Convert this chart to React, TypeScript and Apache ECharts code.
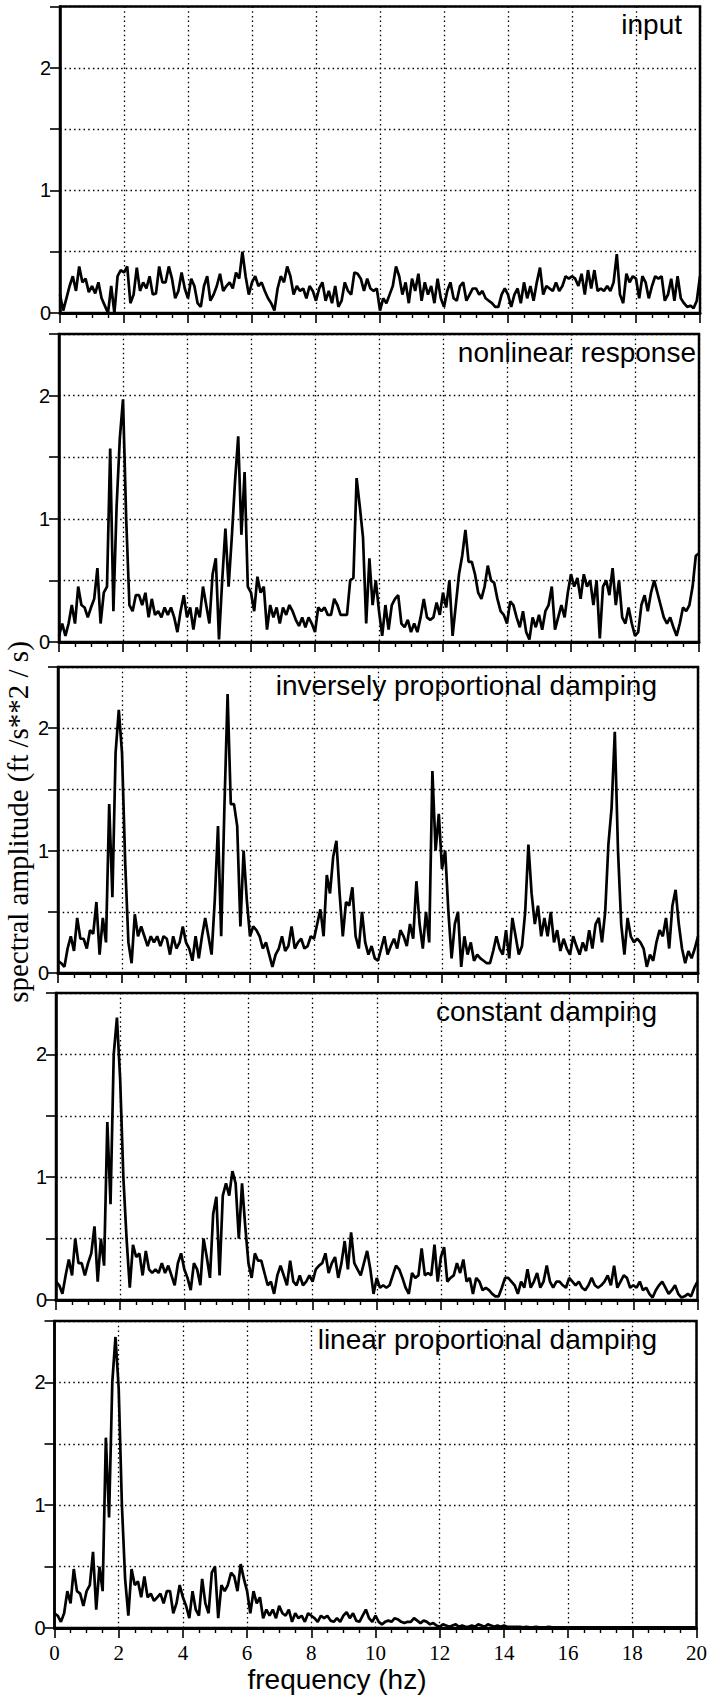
import React, { useEffect, useRef } from "react";
import * as echarts from "echarts";

const FREQ_STEP = 0.1;
const X_TICKS = [0, 2, 4, 6, 8, 10, 12, 14, 16, 18, 20];
const Y_LABELS = [0, 1, 2];
const TITLES = ["input", "nonlinear response", "inversely proportional damping", "constant damping", "linear proportional damping"];

const INPUT = [
  0.15, 0.02, 0.12, 0.22, 0.30, 0.18, 0.38, 0.25, 0.28, 0.17,
  0.22, 0.16, 0.25, 0.12, 0.06, 0.00, 0.22, 0.00, 0.30, 0.35,
  0.33, 0.38, 0.08, 0.15, 0.37, 0.18, 0.25, 0.20, 0.30, 0.15,
  0.16, 0.38, 0.25, 0.25, 0.38, 0.28, 0.12, 0.18, 0.33, 0.20,
  0.12, 0.28, 0.22, 0.08, 0.05, 0.22, 0.30, 0.10, 0.15, 0.22,
  0.32, 0.18, 0.22, 0.25, 0.20, 0.33, 0.28, 0.50, 0.30, 0.15,
  0.25, 0.30, 0.22, 0.25, 0.18, 0.12, 0.08, 0.02, 0.20, 0.30,
  0.25, 0.38, 0.30, 0.15, 0.22, 0.18, 0.20, 0.12, 0.22, 0.18,
  0.10, 0.20, 0.25, 0.10, 0.18, 0.08, 0.22, 0.05, 0.10, 0.25,
  0.18, 0.15, 0.33, 0.32, 0.28, 0.18, 0.28, 0.20, 0.18, 0.20,
  0.02, 0.12, 0.08, 0.15, 0.22, 0.38, 0.30, 0.15, 0.25, 0.08,
  0.28, 0.18, 0.32, 0.10, 0.25, 0.15, 0.22, 0.08, 0.28, 0.12,
  0.05, 0.18, 0.25, 0.12, 0.10, 0.22, 0.25, 0.10, 0.15, 0.20,
  0.20, 0.15, 0.18, 0.12, 0.10, 0.08, 0.05, 0.05, 0.15, 0.20,
  0.15, 0.05, 0.15, 0.20, 0.08, 0.25, 0.12, 0.22, 0.10, 0.25,
  0.37, 0.15, 0.22, 0.20, 0.18, 0.25, 0.18, 0.22, 0.30, 0.28,
  0.30, 0.28, 0.22, 0.32, 0.15, 0.35, 0.20, 0.35, 0.18, 0.20,
  0.18, 0.22, 0.18, 0.25, 0.48, 0.15, 0.08, 0.32, 0.25, 0.30,
  0.28, 0.12, 0.30, 0.25, 0.12, 0.22, 0.30, 0.28, 0.30, 0.10,
  0.15, 0.28, 0.10, 0.30, 0.12, 0.08, 0.05, 0.06, 0.04, 0.10,
  0.30,
];

const NONLINEAR = [
  0.05, 0.15, 0.05, 0.15, 0.30, 0.15, 0.45, 0.30, 0.28, 0.20,
  0.28, 0.35, 0.60, 0.15, 0.40, 0.45, 1.57, 0.25, 1.10, 1.65,
  1.97, 1.00, 0.30, 0.25, 0.38, 0.38, 0.30, 0.40, 0.20, 0.35,
  0.22, 0.25, 0.20, 0.28, 0.22, 0.28, 0.20, 0.08, 0.25, 0.38,
  0.20, 0.28, 0.10, 0.28, 0.20, 0.45, 0.30, 0.15, 0.55, 0.68,
  0.02, 0.50, 0.92, 0.45, 0.85, 1.30, 1.67, 0.87, 1.38, 0.45,
  0.40, 0.25, 0.53, 0.40, 0.45, 0.10, 0.30, 0.20, 0.28, 0.15,
  0.28, 0.22, 0.30, 0.25, 0.18, 0.13, 0.20, 0.12, 0.20, 0.15,
  0.08, 0.28, 0.25, 0.28, 0.22, 0.22, 0.35, 0.30, 0.22, 0.22,
  0.22, 0.50, 0.52, 1.33, 1.10, 0.85, 0.15, 0.68, 0.30, 0.50,
  0.25, 0.05, 0.30, 0.10, 0.30, 0.35, 0.38, 0.15, 0.12, 0.18,
  0.08, 0.15, 0.08, 0.20, 0.35, 0.20, 0.18, 0.20, 0.32, 0.22,
  0.40, 0.28, 0.50, 0.05, 0.30, 0.55, 0.70, 0.91, 0.65, 0.65,
  0.55, 0.40, 0.35, 0.45, 0.62, 0.50, 0.48, 0.35, 0.25, 0.22,
  0.15, 0.33, 0.30, 0.20, 0.12, 0.25, 0.08, 0.02, 0.20, 0.12,
  0.22, 0.10, 0.25, 0.30, 0.45, 0.10, 0.20, 0.30, 0.20, 0.40,
  0.55, 0.45, 0.52, 0.35, 0.55, 0.45, 0.50, 0.30, 0.50, 0.03,
  0.45, 0.50, 0.38, 0.60, 0.30, 0.50, 0.20, 0.15, 0.28, 0.15,
  0.05, 0.08, 0.30, 0.38, 0.25, 0.40, 0.50, 0.40, 0.30, 0.20,
  0.15, 0.20, 0.12, 0.05, 0.15, 0.28, 0.25, 0.30, 0.45, 0.70,
  0.72,
];

const INVERSE = [
  0.10, 0.08, 0.05, 0.20, 0.30, 0.18, 0.45, 0.28, 0.28, 0.20,
  0.35, 0.32, 0.58, 0.15, 0.45, 0.25, 1.38, 0.62, 1.80, 2.15,
  1.80, 0.90, 0.25, 0.08, 0.48, 0.30, 0.38, 0.30, 0.22, 0.30,
  0.25, 0.30, 0.22, 0.30, 0.28, 0.15, 0.30, 0.20, 0.25, 0.38,
  0.25, 0.20, 0.10, 0.30, 0.12, 0.30, 0.45, 0.30, 0.15, 0.60,
  1.20, 0.30, 1.35, 2.28, 1.38, 1.38, 1.20, 0.38, 1.00, 0.60,
  0.30, 0.38, 0.35, 0.30, 0.20, 0.25, 0.15, 0.05, 0.15, 0.20,
  0.30, 0.18, 0.22, 0.38, 0.20, 0.25, 0.28, 0.20, 0.22, 0.30,
  0.28, 0.40, 0.52, 0.30, 0.80, 0.65, 0.95, 1.08, 0.65, 0.30,
  0.58, 0.55, 0.70, 0.30, 0.20, 0.50, 0.25, 0.15, 0.22, 0.12,
  0.10, 0.20, 0.30, 0.15, 0.22, 0.28, 0.20, 0.35, 0.30, 0.22,
  0.40, 0.28, 0.75, 0.40, 0.20, 0.50, 0.25, 1.65, 1.00, 1.30,
  0.85, 1.00, 0.50, 0.12, 0.40, 0.50, 0.05, 0.30, 0.15, 0.25,
  0.10, 0.15, 0.12, 0.10, 0.08, 0.08, 0.18, 0.30, 0.20, 0.15,
  0.35, 0.12, 0.45, 0.30, 0.15, 0.22, 0.50, 1.05, 0.65, 0.40,
  0.55, 0.30, 0.45, 0.30, 0.50, 0.25, 0.35, 0.18, 0.28, 0.20,
  0.15, 0.30, 0.22, 0.15, 0.25, 0.18, 0.35, 0.20, 0.40, 0.45,
  0.25, 0.50, 1.05, 1.35, 1.97, 1.00, 0.40, 0.15, 0.45, 0.30,
  0.25, 0.28, 0.25, 0.20, 0.05, 0.15, 0.10, 0.25, 0.35, 0.30,
  0.45, 0.20, 0.55, 0.68, 0.40, 0.20, 0.08, 0.18, 0.12, 0.20,
  0.30,
];

const CONSTANT = [
  0.15, 0.12, 0.05, 0.20, 0.33, 0.20, 0.50, 0.30, 0.30, 0.20,
  0.30, 0.38, 0.60, 0.15, 0.50, 0.28, 1.45, 0.78, 2.00, 2.30,
  1.80, 1.00, 0.50, 0.10, 0.45, 0.35, 0.38, 0.20, 0.40, 0.25,
  0.22, 0.25, 0.22, 0.30, 0.22, 0.28, 0.20, 0.12, 0.30, 0.38,
  0.25, 0.18, 0.08, 0.30, 0.25, 0.12, 0.50, 0.35, 0.18, 0.70,
  0.84, 0.20, 0.85, 0.95, 0.85, 1.05, 0.95, 0.50, 0.95, 0.60,
  0.30, 0.18, 0.38, 0.32, 0.32, 0.22, 0.12, 0.15, 0.05, 0.20,
  0.28, 0.20, 0.12, 0.32, 0.15, 0.12, 0.20, 0.12, 0.15, 0.20,
  0.15, 0.25, 0.28, 0.30, 0.38, 0.22, 0.30, 0.35, 0.18, 0.30,
  0.48, 0.25, 0.55, 0.30, 0.25, 0.20, 0.30, 0.40, 0.25, 0.05,
  0.18, 0.10, 0.12, 0.10, 0.12, 0.20, 0.28, 0.25, 0.18, 0.10,
  0.05, 0.22, 0.18, 0.20, 0.42, 0.20, 0.22, 0.20, 0.45, 0.15,
  0.35, 0.43, 0.15, 0.18, 0.20, 0.30, 0.22, 0.33, 0.15, 0.18,
  0.05, 0.18, 0.15, 0.08, 0.10, 0.08, 0.05, 0.03, 0.03, 0.10,
  0.18, 0.18, 0.15, 0.12, 0.05, 0.15, 0.10, 0.25, 0.10, 0.15,
  0.22, 0.10, 0.15, 0.28, 0.15, 0.10, 0.15, 0.15, 0.12, 0.10,
  0.18, 0.15, 0.12, 0.15, 0.10, 0.08, 0.12, 0.18, 0.12, 0.10,
  0.12, 0.15, 0.20, 0.12, 0.28, 0.10, 0.15, 0.20, 0.18, 0.10,
  0.12, 0.10, 0.15, 0.08, 0.10, 0.05, 0.02, 0.08, 0.12, 0.15,
  0.10, 0.05, 0.08, 0.12, 0.05, 0.02, 0.03, 0.05, 0.03, 0.10,
  0.15,
];

const LINEAR = [
  0.12, 0.10, 0.05, 0.12, 0.30, 0.20, 0.48, 0.30, 0.28, 0.18,
  0.30, 0.35, 0.62, 0.15, 0.50, 0.30, 1.55, 0.90, 2.00, 2.37,
  1.95, 1.00, 0.40, 0.10, 0.48, 0.35, 0.38, 0.25, 0.42, 0.25,
  0.28, 0.22, 0.25, 0.28, 0.20, 0.30, 0.30, 0.12, 0.20, 0.35,
  0.25, 0.18, 0.08, 0.30, 0.15, 0.10, 0.40, 0.20, 0.12, 0.45,
  0.50, 0.08, 0.35, 0.30, 0.35, 0.45, 0.42, 0.30, 0.52, 0.40,
  0.30, 0.12, 0.30, 0.20, 0.25, 0.08, 0.15, 0.10, 0.15, 0.08,
  0.18, 0.12, 0.10, 0.15, 0.05, 0.12, 0.08, 0.10, 0.05, 0.12,
  0.10, 0.08, 0.05, 0.10, 0.08, 0.10, 0.06, 0.05, 0.08, 0.05,
  0.10, 0.13, 0.08, 0.12, 0.06, 0.05, 0.10, 0.15, 0.08, 0.05,
  0.10, 0.05, 0.03, 0.05, 0.06, 0.05, 0.08, 0.07, 0.05, 0.04,
  0.05, 0.05, 0.08, 0.06, 0.04, 0.06, 0.05, 0.03, 0.04, 0.02,
  0.01, 0.03, 0.02, 0.01, 0.02, 0.03, 0.01, 0.02, 0.01, 0.01,
  0.02, 0.01, 0.03, 0.02, 0.01, 0.03, 0.02, 0.01, 0.02, 0.01,
  0.02, 0.01, 0.01, 0.01, 0.01, 0.01, 0.005, 0.01, 0.005, 0.005,
  0.01, 0.005, 0.005, 0.005, 0.01, 0.005, 0.005, 0.005, 0.005, 0.005,
  0.005, 0.005, 0.005, 0.005, 0.005, 0.005, 0.005, 0.005, 0.005, 0.005,
  0.005, 0.005, 0.005, 0.005, 0.005, 0.005, 0.005, 0.005, 0.005, 0.005,
  0.005, 0.005, 0.005, 0.005, 0.005, 0.005, 0.005, 0.005, 0.005, 0.005,
  0.005, 0.005, 0.005, 0.005, 0.005, 0.005, 0.005, 0.005, 0.005, 0.005,
  0.005,
];

const SERIES = [INPUT, NONLINEAR, INVERSE, CONSTANT, LINEAR];

// panel frames in pixels (the scanned original is slightly skewed)
const LEFTS = [60, 59, 58, 56, 54.5];
const RIGHTS = [700, 699, 698, 697.5, 697.5];
const TOPS = [6.5, 334, 667, 993, 1321];
const BOTTOMS = [313, 642, 973, 1300, 1628];
const TITLE_RIGHTS = [682, 696, 657, 657, 657];

export default function App() {
  const ref = useRef<HTMLDivElement>(null);
  useEffect(() => {
    document.body.style.margin = "0";
    const chart = echarts.init(ref.current!, null, { renderer: "svg" });
    const n = SERIES.length;
    const grids: any[] = [];
    const xAxes: any[] = [];
    const yAxes: any[] = [];
    const series: any[] = [];
    const graphics: any[] = [];
    for (let k = 0; k < n; k++) {
      grids.push({
        left: LEFTS[k],
        top: TOPS[k],
        width: RIGHTS[k] - LEFTS[k],
        height: BOTTOMS[k] - TOPS[k],
        show: true,
        borderColor: "#000",
        borderWidth: 2.5,
        backgroundColor: "transparent",
      });
      xAxes.push({
        type: "value",
        gridIndex: k,
        min: X_TICKS[0],
        max: X_TICKS[X_TICKS.length - 1],
        interval: 2,
        axisLine: { show: true, onZero: false, lineStyle: { color: "#000", width: 3 } },
        axisTick: { show: true, inside: false, length: 10, lineStyle: { color: "#000", width: 1.6 } },
        minorTick: { show: true, splitNumber: 4, length: 5, lineStyle: { color: "#000", width: 1.4 } },
        splitLine: { show: true, lineStyle: { color: "#000", width: 1.3, type: [1.5, 3.2] } },
        axisLabel: {
          show: k === n - 1,
          margin: 14,
          color: "#000",
          fontFamily: "Liberation Serif",
          fontSize: 21,
          formatter: (v: number) => (X_TICKS.includes(v) ? String(v) : ""),
        },
      });
      yAxes.push({
        type: "value",
        gridIndex: k,
        min: 0,
        max: 2.5,
        interval: 0.5,
        axisLine: { show: true, lineStyle: { color: "#000", width: 2.5 } },
        axisTick: { show: true, inside: false, length: 10, lineStyle: { color: "#000", width: 1.6 } },
        splitLine: { show: true, lineStyle: { color: "#000", width: 1.3, type: [1.5, 3.2] } },
        axisLabel: {
          margin: 9,
          color: "#000",
          fontFamily: "Liberation Sans",
          fontSize: 20,
          formatter: (v: number) => (Y_LABELS.includes(v) ? String(v) : ""),
        },
      });
      series.push({
        type: "line",
        xAxisIndex: k,
        yAxisIndex: k,
        showSymbol: false,
        symbol: "none",
        lineStyle: { color: "#000", width: 2.7 },
        data: SERIES[k].map((v, i) => [+(i * FREQ_STEP).toFixed(2), v]),
      });
      graphics.push({
        type: "text",
        x: TITLE_RIGHTS[k],
        y: TOPS[k] + 18,
        style: {
          text: TITLES[k],
          font: '28px "Liberation Sans"',
          fill: "#000",
          textAlign: "right",
          textVerticalAlign: "middle",
        },
      });
    }
    graphics.push({
      type: "text",
      x: 18,
      y: 822,
      rotation: Math.PI / 2,
      style: {
        text: "spectral amplitude (ft /s**2 / s)",
        font: '29px "Liberation Serif"',
        fill: "#000",
        textAlign: "center",
        textVerticalAlign: "middle",
      },
    });
    graphics.push({
      type: "text",
      x: 337,
      y: 1679,
      style: {
        text: "frequency (hz)",
        font: '28px "Liberation Sans"',
        fill: "#000",
        textAlign: "center",
        textVerticalAlign: "middle",
      },
    });
    chart.setOption({
      animation: false,
      backgroundColor: "#fff",
      grid: grids,
      xAxis: xAxes,
      yAxis: yAxes,
      series,
      graphic: graphics,
    });
    return () => chart.dispose();
  }, []);
  return <div ref={ref} style={{ width: 710, height: 1695 }} />;
}
